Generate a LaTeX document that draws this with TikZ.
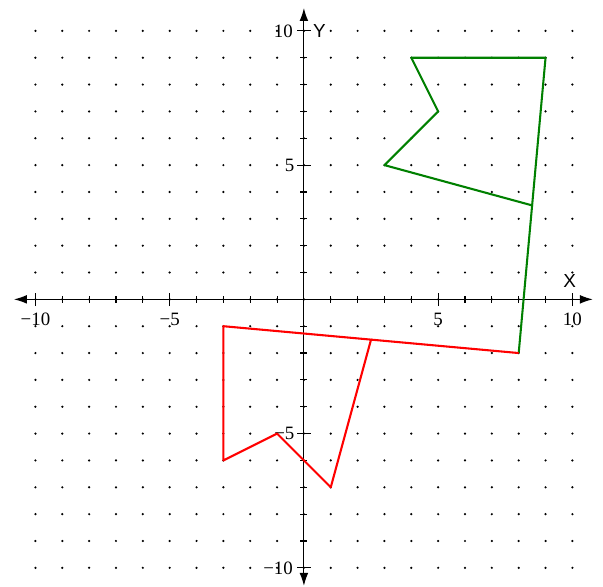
\documentclass[tikz,border=0pt]{standalone}
\usepackage{fontspec}
\setmainfont{Liberation Serif}
\newfontfamily\axisfont{Liberation Sans}
\usetikzlibrary{arrows.meta}
\definecolor{darkgreen}{rgb}{0,0.5,0}

\begin{document}
\begin{tikzpicture}[x=0.5cm,y=0.5cm]
      \useasboundingbox (-11.32,-10.71) rectangle (11.14,11.15);
      % Dotted grid
      \foreach \i in {-10,...,10} {
        \foreach \j in {-10,...,10} {
          \fill (\i,\j) circle (0.65pt);
        }
      }
      % Axes
      \draw[line width=0.6pt,{Latex[length=6.8pt,width=4.6pt]}-{Latex[length=6.8pt,width=4.6pt]}] (-10.8,0) -- (10.76,0);
      \draw[line width=0.6pt,{Latex[length=6.8pt,width=4.6pt]}-{Latex[length=6.8pt,width=4.6pt]}] (0,-10.67) -- (0,10.85);
      \foreach \i in {-10,...,10} {
        \draw[line width=0.6pt] (\i,-0.13) -- (\i,0.13);
        \draw[line width=0.6pt] (-0.13,\i) -- (0.13,\i);
      }
      \foreach \i in {-10,-5,5,10} {
        \draw[line width=0.6pt] (\i,-0.25) -- (\i,0.25);
        \draw[line width=0.6pt] (-0.25,\i) -- (0.25,\i);
      }
      % Axis labels
      \node (xlabm10) at (-10,-0.76) {−10};
      \node (xlabm5) at (-5,-0.76) {−5};
      \node (xlab5) at (5,-0.76) {5};
      \node (xlab10) at (10,-0.76) {10};
      \node[anchor=east,inner sep=0] (ylab10) at (-0.4,10) {10};
      \node[anchor=east,inner sep=0] (ylab5) at (-0.34,5) {5};
      \node[anchor=east,inner sep=0] (ylabm5) at (-0.34,-5) {−5};
      \node[anchor=east,inner sep=0] (ylabm10) at (-0.4,-10) {−10};
      \node (xname) at (9.9,0.69) {\axisfont X};
      \node[anchor=west,inner sep=0] (yname) at (0.33,10) {\axisfont Y};
      % Centre of rotation
      \coordinate (c) at (8,-2);
      % Green shape
      \coordinate (g1) at (4,9);
      \coordinate (g2) at (9,9);
      \coordinate (g3) at (8.5,3.5);
      \coordinate (g4) at (3,5);
      \coordinate (g5) at (5,7);
      \draw[line width=1.1pt,darkgreen,line join=round] (g1) -- (g2) -- (g3) -- (g4) -- (g5) -- cycle;
      \draw[line width=1.1pt,darkgreen] (c) -- (g3);
      % Red shape
      \coordinate (r1) at (-3,-1);
      \coordinate (r2) at (-3,-6);
      \coordinate (r3) at (-1,-5);
      \coordinate (r4) at (1,-7);
      \coordinate (r5) at (2.5,-1.5);
      \draw[line width=1.1pt,red,line join=round] (r1) -- (r2) -- (r3) -- (r4) -- (r5) -- cycle;
      \draw[line width=1.1pt,red] (c) -- (r5);
\end{tikzpicture}
\end{document}
